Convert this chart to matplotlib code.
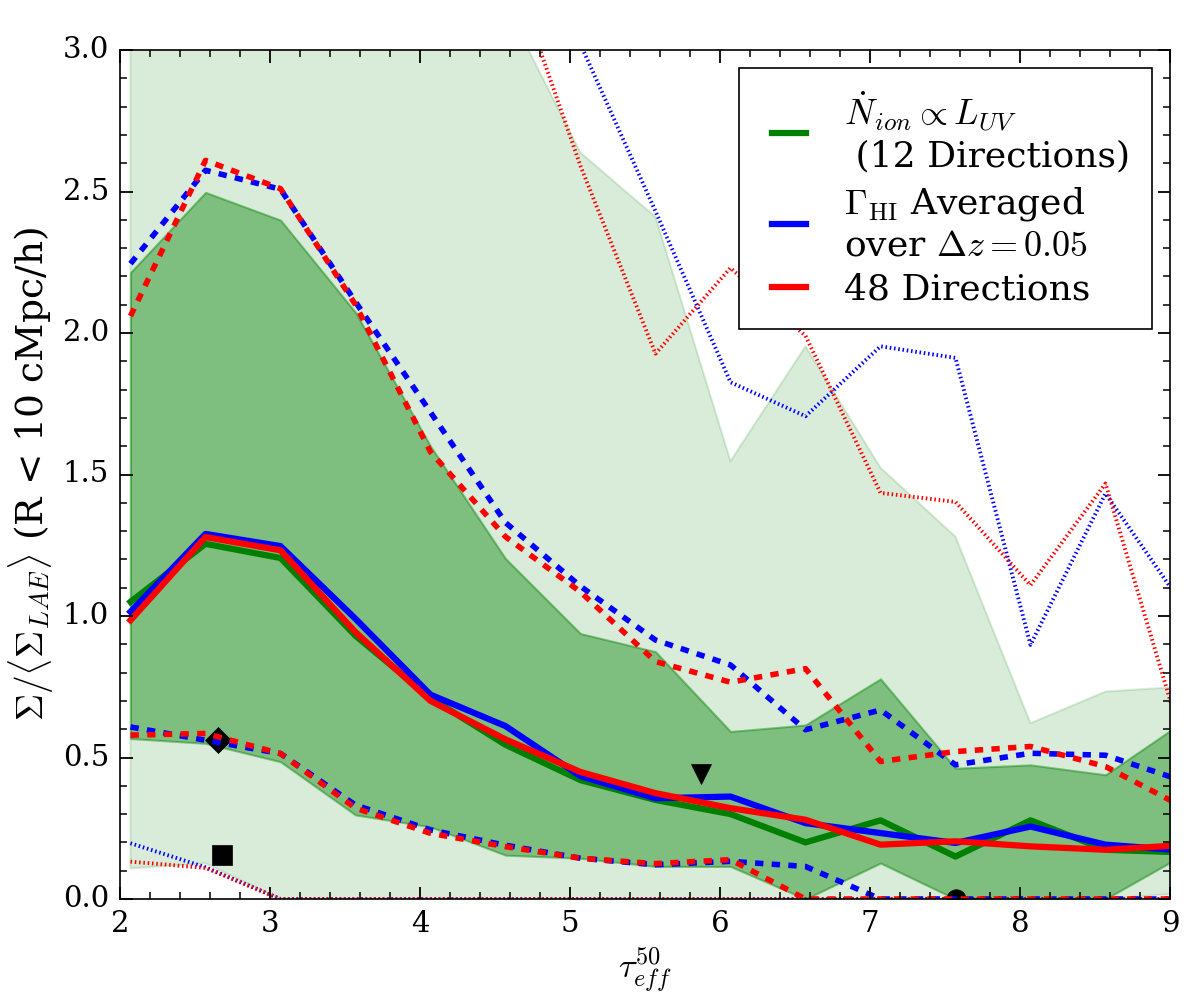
import numpy as np
import matplotlib
matplotlib.use("Agg")
import matplotlib.pyplot as plt
from matplotlib.ticker import MultipleLocator

plt.style.use('classic')
plt.rcParams['font.family'] = ['DejaVu Serif']
plt.rcParams['mathtext.fontset'] = 'cm'

# ---------------- data ----------------
tau = [2.07, 2.57, 3.07, 3.57, 4.07, 4.57, 5.07, 5.57, 6.07, 6.57, 7.07, 7.57, 8.07, 8.57, 9.07]

# 12 directions (green) : median, inner band, outer band
green_med = [1.05, 1.255, 1.205, 0.93, 0.71, 0.545, 0.42, 0.35, 0.30, 0.20, 0.278, 0.15, 0.278, 0.174, 0.165]
green_in_hi = [2.214, 2.497, 2.399, 2.073, 1.60, 1.203, 0.938, 0.874, 0.592, 0.615, 0.778, 0.462, 0.474, 0.439, 0.62]
green_in_lo = [0.567, 0.55, 0.485, 0.297, 0.255, 0.155, 0.144, 0.115, 0.115, 0.0, 0.127, 0.0, 0.0, 0.0, 0.15]
green_out_hi = [4.6, 5.2, 4.9, 4.3, 3.6, 3.16, 2.637, 2.41, 1.547, 1.953, 1.524, 1.28, 0.621, 0.733, 0.75]
green_out_lo = [0.108, 0.126, 0.0, 0.0, 0.0, 0.0, 0.0, 0.0, 0.0, 0.0, 0.0, 0.0, 0.0, 0.0, 0.02]

# Gamma_HI averaged (blue)
blue_med = [1.015, 1.29, 1.247, 0.99, 0.722, 0.611, 0.434, 0.356, 0.362, 0.268, 0.233, 0.198, 0.256, 0.192, 0.172]
blue_hi = [2.245, 2.575, 2.508, 2.11, 1.72, 1.33, 1.105, 0.915, 0.827, 0.598, 0.668, 0.474, 0.515, 0.508, 0.42]
blue_lo = [0.608, 0.561, 0.514, 0.332, 0.244, 0.19, 0.144, 0.121, 0.133, 0.115, 0.0, 0.0, 0.0, 0.0, 0.0]
blue_max = [4.5, 5.0, 4.8, 4.3, 3.9, 3.5, 3.02, 2.43, 1.826, 1.706, 1.953, 1.912, 0.898, 1.433, 1.05]
blue_min = [0.197, 0.112, 0.0, 0.0, 0.0, 0.0, 0.0, 0.0, 0.0, 0.0, 0.0, 0.0, 0.0, 0.0, 0.0]

# 48 directions (red)
red_med = [0.985, 1.279, 1.232, 0.943, 0.70, 0.564, 0.449, 0.374, 0.321, 0.28, 0.192, 0.204, 0.186, 0.174, 0.19]
red_hi = [2.06, 2.61, 2.51, 2.10, 1.58, 1.28, 1.085, 0.839, 0.766, 0.814, 0.486, 0.521, 0.539, 0.468, 0.33]
red_lo = [0.579, 0.585, 0.514, 0.321, 0.232, 0.185, 0.144, 0.125, 0.139, 0.0, 0.0, 0.0, 0.0, 0.0, 0.0]
red_max = [4.3, 4.9, 4.7, 4.1, 3.8, 3.35, 2.59, 1.927, 2.23, 1.99, 1.435, 1.403, 1.109, 1.468, 0.58]
red_min = [0.132, 0.11, 0.0, 0.0, 0.0, 0.0, 0.0, 0.0, 0.0, 0.0, 0.0, 0.0, 0.0, 0.0, 0.0]

# individual objects
diamond_x, diamond_y = [2.655], [0.561]
square_x, square_y = [2.683], [0.154]
tri_x, tri_y = [5.874], [0.44]
circ_x, circ_y = [7.57], [0.0]

legend_labels = ['$\\dot{N}_{ion} \\propto L_{UV}$\n (12 Directions)',
                 '$\\Gamma_{\\rm HI}$ Averaged\nover $\\Delta z=0.05$',
                 '48 Directions']

# ---------------- figure ----------------
fig = plt.figure(figsize=(12, 10), dpi=100)
fig.patch.set_facecolor('white')
ax = fig.add_subplot(111)
fig.subplots_adjust(left=0.1, right=0.975, top=0.95, bottom=0.101)

ax.fill_between(tau, green_out_lo, green_out_hi, color='g', alpha=0.15, lw=1.5)
ax.fill_between(tau, green_in_lo, green_in_hi, color='g', alpha=0.42, lw=1.5)

ax.plot(diamond_x, diamond_y, 'kD', ms=13, mew=0.5)
ax.plot(square_x, square_y, 'ks', ms=14, mew=0.5)
ax.plot(tri_x, tri_y, 'kv', ms=14, mew=0.5)
ax.plot(circ_x, circ_y, 'ko', ms=14, mew=0.5)

dot = (0, (1.1, 2.0))
ax.plot(tau, blue_max, color='b', ls=dot, lw=2.8)
ax.plot(tau, red_max, color='r', ls=dot, lw=2.8)
ax.plot(tau, blue_min, color='b', ls=dot, lw=2.8)
ax.plot(tau, red_min, color='r', ls=dot, lw=2.8)

ax.plot(tau, blue_hi, color='b', ls='--', lw=4)
ax.plot(tau, red_hi, color='r', ls='--', lw=4)
ax.plot(tau, blue_lo, color='b', ls='--', lw=4)
ax.plot(tau, red_lo, color='r', ls='--', lw=4)

l1, = ax.plot(tau, green_med, color='g', lw=4.5)
l2, = ax.plot(tau, blue_med, color='b', lw=4.5)
l3, = ax.plot(tau, red_med, color='r', lw=4.5)

ax.set_xlim(2, 9)
ax.set_ylim(0, 3)
ax.xaxis.set_major_locator(MultipleLocator(1))
ax.xaxis.set_minor_locator(MultipleLocator(0.2))
ax.yaxis.set_major_locator(MultipleLocator(0.5))
ax.yaxis.set_minor_locator(MultipleLocator(0.1))
ax.tick_params(which='both', direction='in', top=True, right=True, labelsize=21, pad=8)
ax.tick_params(which='major', length=9, width=1.3)
ax.tick_params(which='minor', length=5, width=1.1)
for s in ax.spines.values():
    s.set_linewidth(1.2)

ax.set_xlabel('$\\tau^{50}_{eff}$', fontsize=25)
ax.set_ylabel('$\\Sigma/\\langle\\Sigma_{LAE}\\rangle$ (R < 10 cMpc/h)', fontsize=27)

leg = ax.legend([l1, l2, l3], legend_labels, loc='upper right', fontsize=26,
                handlelength=1.55, handletextpad=0.75, borderpad=0.6,
                labelspacing=0.3, numpoints=2, fancybox=False)
leg.get_frame().set_linewidth(1.2)
leg.get_frame().set_edgecolor('black')

fig.savefig('out.png', dpi=100, facecolor='white')
